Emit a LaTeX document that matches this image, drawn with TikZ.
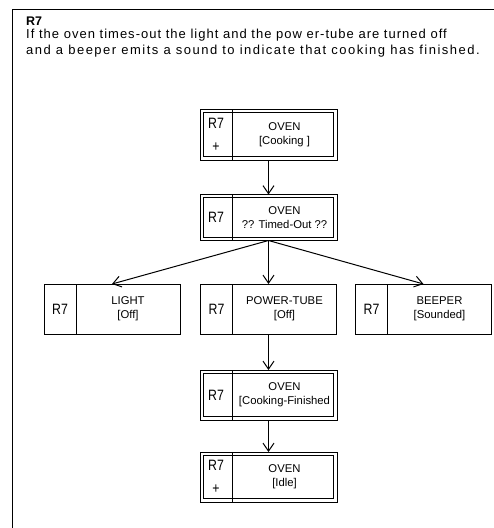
\documentclass[tikz,border=0pt]{standalone}
\usepackage{fontspec}
\setmainfont{Liberation Sans}
\newfontfamily\tagsans[FakeStretch=0.82]{Liberation Sans}
\usetikzlibrary{arrows.meta}

\begin{document}
\begin{tikzpicture}[x=1pt,y=-1pt,
  box/.style={draw, line width=0.9pt, fill=white, inner sep=0pt, outer sep=0pt,
    minimum width=136pt, minimum height=50pt},
  dblbox/.style={box, minimum width=137pt},
  tagtext/.style={inner sep=0pt, align=center, font=\tagsans\fontsize{15}{23}\selectfont},
  labtext/.style={inner sep=0pt, align=center, font=\fontsize{11.3}{14}\selectfont},
  divider/.style={line width=0.9pt},
  conn/.style={line width=1pt, -{Straight Barb[length=8pt,width=11pt,line width=1pt]}},
  hdtext/.style={anchor=base west, inner sep=0pt, font=\fontsize{13}{15}\selectfont}
]
\useasboundingbox (0,0) rectangle (494,528);
\clip (0,0) rectangle (494,528);

% outer frame (runs past the page on the right and bottom)
\draw[line width=1pt] (12,560) -- (12,9) -- (520,9);

% heading
\node[hdtext, font=\bfseries\fontsize{12.5}{15}\selectfont] (hd) at (26,25.8) {R7};
\node[hdtext] (l1) at (26,38.5) {\addfontfeature{LetterSpace=7.8}If the oven times-out the light and the pow er-tube are turned off};
\node[hdtext] (l2) at (26,54) {\addfontfeature{LetterSpace=11.5}and a beeper emits a sound to indicate that cooking has finished.};

% state boxes
\node[dblbox, minimum height=51pt] (n1) at (268.5,134.5) {};
\node[dblbox, minimum height=46pt] (n2) at (268.5,217.5) {};
\node[box] (lt) at (112,309) {};
\node[box] (pt) at (268.5,309) {};
\node[box] (bp) at (423.5,309) {};
\node[dblbox] (n4) at (268.5,395) {};
\node[dblbox] (n5) at (268.5,477) {};

% inner line of the double borders
\foreach \n in {n1, n2, n4, n5}
  \draw[line width=0.9pt] ([shift={(3.2pt,-3.2pt)}]\n.north west) rectangle ([shift={(-3.2pt,3.2pt)}]\n.south east);

% dividers between tag and label parts
\foreach \n in {n1, n2, n4, n5, lt, pt, bp}
  \draw[divider] ([xshift=32pt]\n.north west) -- ([xshift=32pt]\n.south west);

% tags
\node[tagtext] (n1t) at ([xshift=16pt]n1.west) {R7\\+};
\node[tagtext] (n2t) at ([xshift=16pt]n2.west) {R7};
\node[tagtext] (ltt) at ([xshift=16pt]lt.west) {R7};
\node[tagtext] (ptt) at ([xshift=16pt]pt.west) {R7};
\node[tagtext] (bpt) at ([xshift=16pt]bp.west) {R7};
\node[tagtext] (n4t) at ([xshift=16pt]n4.west) {R7};
\node[tagtext] (n5t) at ([xshift=16pt]n5.west) {R7\\+};

% labels
\node[labtext] (n1l) at ([xshift=16pt]n1.center) {OVEN\\{[Cooking ]}};
\node[labtext] (n2l) at ([xshift=16pt]n2.center) {OVEN\\?? Timed-Out ??};
\node[labtext] (ltl) at ([xshift=16pt]lt.center) {LIGHT\\{[Off]}};
\node[labtext] (ptl) at ([xshift=16pt]pt.center) {POWER-TUBE\\{[Off]}};
\node[labtext] (bpl) at ([xshift=16pt]bp.center) {BEEPER\\{[Sounded]}};
\node[labtext] (n4l) at ([xshift=16pt]n4.center) {OVEN\\{[Cooking-Finished}};
\node[labtext] (n5l) at ([xshift=16pt]n5.center) {OVEN\\{[Idle]}};

% transitions
\draw[conn] (n1.south) -- (n2.north);
\draw[conn] (n2.south) -- (lt.north);
\draw[conn] (n2.south) -- (pt.north);
\draw[conn] (n2.south) -- (bp.north);
\draw[conn] (pt.south) -- (n4.north);
\draw[conn] (n4.south) -- (n5.north);
\end{tikzpicture}
\end{document}
